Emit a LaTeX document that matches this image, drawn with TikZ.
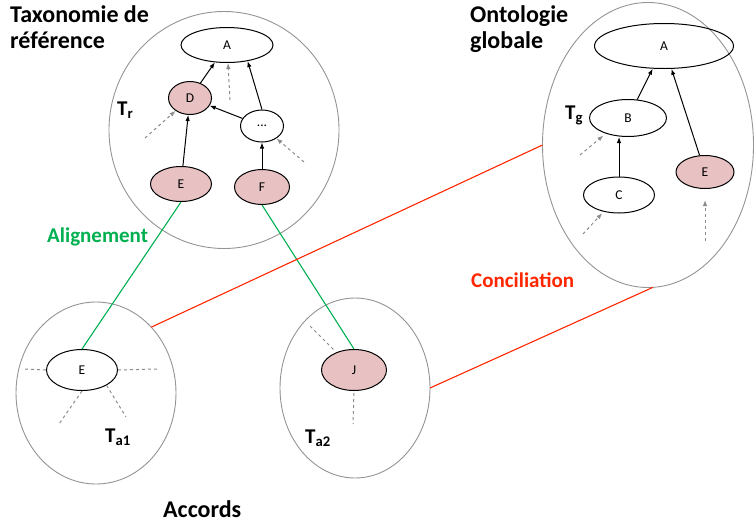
\documentclass[tikz,border=0pt]{standalone}
\usepackage{fontspec}
\setmainfont{Carlito}
\usetikzlibrary{shapes.geometric,arrows.meta}

\definecolor{sharedpink}{RGB}{232,194,194}
\definecolor{aligngreen}{RGB}{0,176,80}
\definecolor{concred}{RGB}{255,38,0}

\tikzstyle{onto} = [draw=black!42, ellipse, inner sep=0pt, outer sep=0pt, line width=0.9pt]
\tikzstyle{concept} = [draw=black, ellipse, inner sep=0pt, line width=1pt,
    font=\fontsize{13.5}{15}\selectfont]
\tikzstyle{shared} = [concept, fill=sharedpink]
\tikzstyle{isa} = [-{Latex[length=6pt,width=4.5pt]}, line width=1pt]
\tikzstyle{hint} = [isa, draw=black!45, dashed]
\tikzstyle{stub} = [draw=black!45, dashed, line width=1pt]
\tikzstyle{bigtitle} = [font=\bfseries\fontsize{24}{26}\selectfont, align=left,
    anchor=north west, inner sep=0pt]
\tikzstyle{tlabel} = [font=\bfseries\fontsize{21}{24}\selectfont, anchor=base west, inner sep=0pt]

\begin{document}
\begin{tikzpicture}[x=1pt, y=-1pt]
\useasboundingbox (0,0) rectangle (754,525);

% the four taxonomies
\node[onto, minimum width=230, minimum height=237] (Tr) at (224,130) {};
\node[onto, minimum width=211, minimum height=285] (Tg) at (648,145) {};
\node[onto, minimum width=160, minimum height=182] (Ta1) at (96,393) {};
\node[onto, minimum width=150, minimum height=180] (Ta2) at (355,388) {};

\node[bigtitle] (titleR) at (10,5) {Taxonomie de\\référence};
\node[bigtitle] (titleG) at (470,5) {Ontologie\\globale};

% reference taxonomy
\node[concept, minimum width=92, minimum height=35] (Ar) at (227,45) {A};
\node[shared, minimum width=43, minimum height=33] (Dr) at (190,98) {D};
\node[concept, minimum width=43, minimum height=32] (dotsr) at (262,126) {...};
\node[shared, minimum width=61, minimum height=35] (Er) at (181,184) {E};
\node[shared, minimum width=55, minimum height=35] (Fr) at (262,187) {F};
\node[tlabel] (labR) at (117,115) {T\textsubscript{r}};

\draw[isa] (Dr) -- (Ar);
\draw[isa] (dotsr.north) -- (Ar.-38);
\draw[isa] (dotsr) -- (Dr);
\draw[isa] (Er) -- (Dr);
\draw[isa] (Fr) -- (dotsr);

\coordinate (hA) at (230,100);
\coordinate (hD) at (145,138);
\coordinate (hdots) at (304,162);
\draw[hint] (hA) -- (Ar);
\draw[hint] (hD) -- (Dr);
\draw[hint] (hdots) -- (dotsr);

% global ontology
\node[concept, minimum width=139, minimum height=45] (Ag) at (664,46) {A};
\node[concept, minimum width=77, minimum height=37] (Bg) at (628,118) {B};
\node[concept, minimum width=71, minimum height=36] (Cg) at (619,195) {C};
\node[shared, minimum width=58, minimum height=33] (Eg) at (705,172) {E};
\node[tlabel] (labG) at (565,119) {T\textsubscript{g}};

\draw[isa] (Bg) -- (Ag);
\draw[isa] (Cg.north) -- (Cg.north |- Bg.south);
\draw[isa] (Eg) -- (Ag);

\coordinate (hB) at (580,155);
\coordinate (hC) at (583,234);
\coordinate (hE) at (705,241);
\draw[hint, shorten >=3pt] (hB) -- (Bg.215);
\draw[hint, shorten >=2pt] (hC) -- (Cg);
\draw[hint, shorten >=11pt] (hE) -- (Eg.south);

% agreements
\node[concept, minimum width=71, minimum height=41] (Ea) at (82,370) {E};
\node[tlabel] (labA1) at (105,442) {T\textsubscript{a1}};
\coordinate (s1) at (22,369);
\coordinate (s2) at (157,369);
\coordinate (s3) at (59,424);
\coordinate (s4) at (126,417);
\draw[stub] (Ea.west) -- (s1);
\draw[stub] (Ea.east) -- (s2);
\draw[stub] (Ea.south) -- (s3);
\draw[stub] (Ea.-32) -- (s4);

\node[shared, minimum width=65, minimum height=41] (Ja) at (354,370) {J};
\node[tlabel] (labA2) at (305,443) {T\textsubscript{a2}};
\coordinate (t1) at (310,326);
\coordinate (t2) at (353,424);
\draw[stub, shorten <=4pt] (Ja) -- (t1);
\draw[stub, shorten <=2pt] (Ja.south) -- (t2);

% alignment and conciliation
\draw[aligngreen, line width=1.1pt] (Er.south) -- (Ea.north);
\draw[aligngreen, line width=1.1pt] (Fr.south) -- (Ja.north);
\draw[concred, line width=1.1pt] (Ta1.50) -- (Tg.180);
\draw[concred, line width=1.1pt] (Ta2.east) -- (Tg.-88);

\node[tlabel, text=aligngreen] (alignlab) at (47,242) {Alignement};
\node[tlabel, text=concred] (conclab) at (471,287) {Conciliation};
\node[tlabel, font=\bfseries\fontsize{24}{26}\selectfont] (accordslab) at (163,517) {Accords};
\end{tikzpicture}
\end{document}
